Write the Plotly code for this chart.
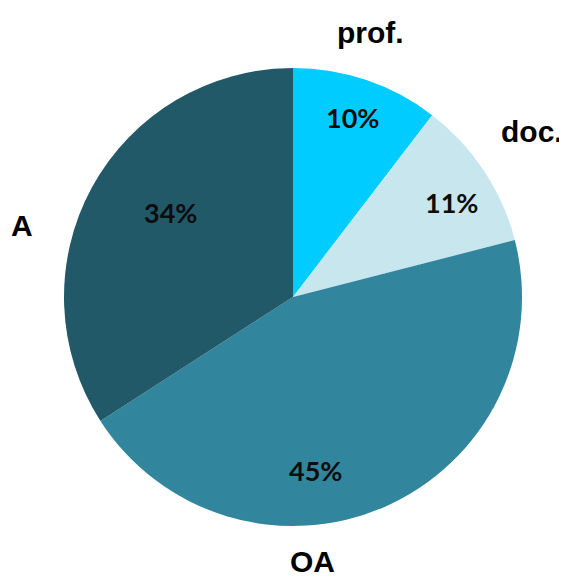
import plotly.graph_objects as go

labels = ["prof.", "doc.", "OA", "A"]
values = [10.4, 10.6, 44.9, 34.1]
colors = ["#00CCFF", "#C8E6EE", "#31859C", "#215968"]

# figure sized to fit the window after the page's 8px body margin
W, H = 559, 569
OFF = 8
# category label centres (reference pixels)
label_px = [(370, 32), (532, 132), (312, 561), (22, 225)]
# percentage label centres (reference pixels)
pct_px = [(352, 117), (451, 202), (315, 470), (170, 213)]


def to_paper(px, py):
    return (px - OFF) / W, 1 - (py - OFF) / H


fig = go.Figure()
fig.add_trace(go.Pie(
    labels=labels,
    values=values,
    sort=False,
    direction="clockwise",
    rotation=0,
    marker=dict(colors=colors, line=dict(width=0)),
    textinfo="none",
    domain=dict(x=[(64 - OFF) / W, (522 - OFF) / W],
                y=[1 - (526 - OFF) / H, 1 - (68 - OFF) / H]),
    showlegend=False,
    hoverinfo="label+percent",
))

total = sum(values)
for lab, v, (lx, ly), (tx, ty) in zip(labels, values, label_px, pct_px):
    x, y = to_paper(lx, ly)
    fig.add_annotation(
        x=x, y=y, xref="paper", yref="paper", text=lab, showarrow=False,
        font=dict(family="Liberation Sans", size=30, color="#000000", weight="bold"),
        xanchor="center", yanchor="middle",
    )
    x, y = to_paper(tx, ty)
    fig.add_annotation(
        x=x, y=y, xref="paper", yref="paper",
        text=f"{round(100 * v / total)}%", showarrow=False,
        font=dict(family="Lato", size=27, color="#0d0d0d", weight="bold"),
        xanchor="center", yanchor="middle",
    )

fig.update_layout(
    width=W, height=H,
    margin=dict(l=0, r=0, t=0, b=0),
    paper_bgcolor="white",
    plot_bgcolor="white",
)

fig.write_html("out.html")
